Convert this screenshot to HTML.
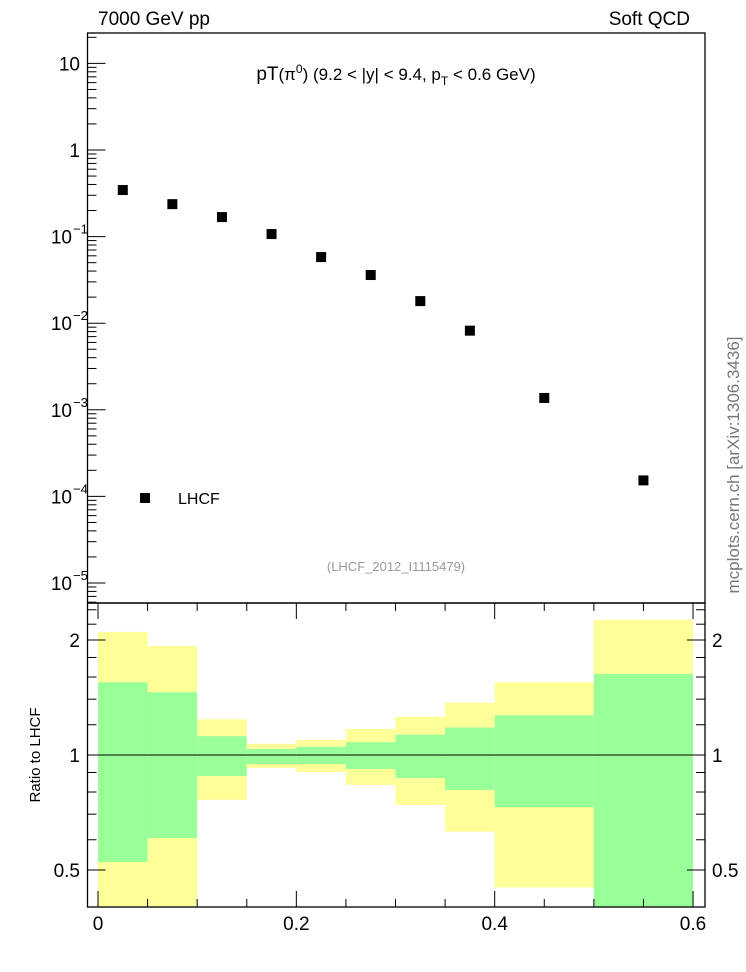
<!DOCTYPE html>
<html><head><meta charset="utf-8"><style>
body{margin:0;background:#fff}
svg{display:block;font-family:"Liberation Sans",sans-serif}
</style></head><body>
<svg id="c" width="746" height="972" xmlns="http://www.w3.org/2000/svg">
<text x="98" y="25" font-size="19">7000 GeV pp</text>
<text x="690" y="25" font-size="19" text-anchor="end">Soft QCD</text>
<text x="396" y="80" font-size="17" text-anchor="middle"><tspan font-size="19">pT</tspan>(π<tspan dy="-7" font-size="12">0</tspan><tspan dy="7">) (9.2 &lt; |y| &lt; 9.4, p</tspan><tspan dy="5" font-size="12">T</tspan><tspan dy="-5"> &lt; 0.6 GeV)</tspan></text>
<text x="396" y="571" font-size="13" fill="#999" text-anchor="middle">(LHCF_2012_I1115479)</text>
<text transform="translate(739,465) rotate(-90)" font-size="17" fill="#777" text-anchor="middle">mcplots.cern.ch [arXiv:1306.3436]</text>
<text transform="translate(40,755) rotate(-90)" font-size="15" text-anchor="middle">Ratio to LHCF</text>
<rect x="140" y="493" width="10" height="10" fill="#000"/>
<text x="178" y="504" font-size="16">LHCF</text>
<g id="g"></g>
</svg>
<script>
const xEdges=[0,0.05,0.1,0.15,0.2,0.25,0.3,0.35,0.4,0.5,0.6];
const yValues=[0.345,0.237,0.168,0.107,0.058,0.036,0.018,0.0082,0.00137,0.000153];
const yellowHi=[2.10,1.93,1.24,1.07,1.095,1.17,1.26,1.37,1.55,2.26];
const yellowLo=[0.38,0.38,0.763,0.925,0.903,0.835,0.74,0.63,0.45,0.38];
const greenHi=[1.55,1.46,1.12,1.037,1.05,1.08,1.13,1.18,1.27,1.63];
const greenLo=[0.525,0.606,0.881,0.947,0.947,0.919,0.87,0.81,0.73,0.38];
const xTicks=[0,0.2,0.4,0.6];
const yTicks=[-5,-4,-3,-2,-1,0,1];
const rTicks=[0.5,1,2];
const L=87.5,R=705,T=33,M=603,B=907;
const X=v=>98+v*991.7;
const Y=v=>150-Math.log10(v)*86.6;
const RY=v=>Math.min(B,Math.max(M,755-Math.log2(v)*115));
const g=document.getElementById('g');
const NS='http://www.w3.org/2000/svg';
function mk(t,a,name){const e=document.createElementNS(NS,t);for(const k in a)e.setAttribute(k,a[k]);


g.appendChild(e);return e;}
for(let i=0;i<yValues.length;i++){
 const x0=X(xEdges[i]),x1=X(xEdges[i+1]);
 mk('rect',{x:x0,y:RY(yellowHi[i]),width:x1-x0,height:RY(yellowLo[i])-RY(yellowHi[i]),fill:'#ffff99'},'yellow-band');
 mk('rect',{x:x0,y:RY(greenHi[i]),width:x1-x0,height:RY(greenLo[i])-RY(greenHi[i]),fill:'#99ff99'},'green-band');
}
mk('line',{x1:L,x2:R,y1:RY(1),y2:RY(1),stroke:'#000','stroke-width':1},'ratio-reference-line');
for(let i=0;i<yValues.length;i++){
 const xc=X((xEdges[i]+xEdges[i+1])/2);
 mk('rect',{x:xc-5,y:Y(yValues[i])-5,width:10,height:10,fill:'#000'},'data-point');
}
mk('rect',{x:L,y:T,width:R-L,height:M-T,fill:'none',stroke:'#000','stroke-width':1.3},'main-frame');
mk('rect',{x:L,y:M,width:R-L,height:B-M,fill:'none',stroke:'#000','stroke-width':1.3},'ratio-frame');
for(let d=-6;d<=1;d++){for(let m=1;m<10;m++){const v=m*Math.pow(10,d);const y=Y(v);if(y<T||y>M)continue;
 const len=m==1?18:9;mk('line',{x1:L,x2:L+len,y1:y,y2:y,stroke:'#000'},'y-tick');}}
yTicks.forEach(d=>{const y=Y(Math.pow(10,d));let t;
 if(d==0)t=mk('text',{x:80,y:y+7,'font-size':19,'text-anchor':'end'},'y-tick-label'),t.textContent='1';
 else if(d==1)t=mk('text',{x:80,y:y+7,'font-size':19,'text-anchor':'end'},'y-tick-label'),t.textContent='10';
 else{t=mk('text',{x:72,y:y+7,'font-size':19,'text-anchor':'end'},'y-tick-label');t.textContent='10';
 const s=mk('text',{x:73,y:y-3,'font-size':13},'y-tick-exponent');s.textContent='−'+(-d);}});
for(let v=0;v<=0.6001;v+=0.05){const x=X(v);const len=(Math.round(v*100)%20==0)?16:8;
 mk('line',{x1:x,x2:x,y1:M,y2:M+len,stroke:'#000'},'x-tick');mk('line',{x1:x,x2:x,y1:B,y2:B-len,stroke:'#000'},'x-tick');}
xTicks.forEach(v=>{const t=mk('text',{x:X(v),y:930,'font-size':19,'text-anchor':'middle'},'x-tick-label');t.textContent=v===0?'0':String(v);});
[0.4,0.5,0.6,0.7,0.8,0.9,1,1.2,1.4,1.6,1.8,2,2.2,2.4].forEach(v=>{const y=RY(v);const len=(v==0.5||v==1||v==2)?18:9;
 mk('line',{x1:L,x2:L+len,y1:y,y2:y,stroke:'#000'},'ratio-tick');mk('line',{x1:R,x2:R-len,y1:y,y2:y,stroke:'#000'},'ratio-tick');});
rTicks.forEach(v=>{const y=RY(v);const a=mk('text',{x:80,y:y+7,'font-size':19,'text-anchor':'end'},'ratio-tick-label');a.textContent=String(v);
 const b=mk('text',{x:712,y:y+7,'font-size':19},'ratio-tick-label-right');b.textContent=String(v);});
</script>
</body></html>
